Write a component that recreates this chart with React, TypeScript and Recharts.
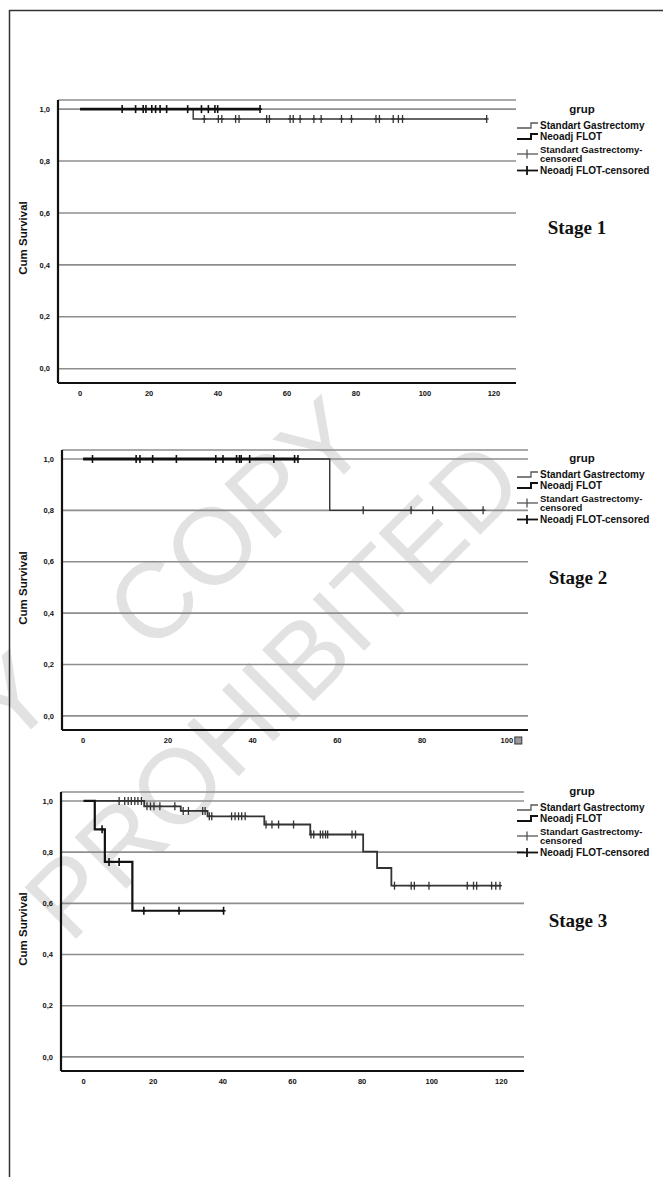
import React from "react";
import {
  ComposedChart,
  Line,
  Scatter,
  XAxis,
  YAxis,
  CartesianGrid,
} from "recharts";

// ---- Stage 1 ----
const s1StdStepT = [0, 32.8];
const s1StdStepS = [1, 0.962];
const s1StdEnd = 117.9;
const s1StdCens = [
  36.0, 40.1, 41.1, 45.1, 46.1, 54.1, 54.9, 60.9, 61.8, 63.8, 67.8, 69.9,
  75.8, 78.7, 85.8, 86.8, 90.8, 92.3, 93.5, 117.9,
];
const s1FlotStepT = [0];
const s1FlotStepS = [1];
const s1FlotEnd = 52.2;
const s1FlotCens = [
  12.2, 16.1, 18.3, 19.1, 20.8, 21.9, 23.2, 25.1, 31.2, 35.2, 37.2, 39.1,
  39.9, 52.2,
];

// ---- Stage 2 ----
const s2StdStepT = [0, 58.2];
const s2StdStepS = [1, 0.8];
const s2StdEnd = 95;
const s2StdCens = [66.1, 77.4, 82.5, 94.4];
const s2FlotStepT = [0];
const s2FlotStepS = [1];
const s2FlotEnd = 50.7;
const s2FlotCens = [
  2.2, 12.5, 13.4, 16.4, 22.0, 31.3, 33.0, 36.2, 36.9, 37.3, 39.3, 45.0,
  49.9, 50.7,
];

// ---- Stage 3 ----
const s3StdStepT = [0, 17.4, 27.9, 35.6, 51.9, 65.1, 80.3, 84.3, 88.4];
const s3StdStepS = [1, 0.979, 0.961, 0.94, 0.908, 0.869, 0.802, 0.738, 0.669];
const s3StdEnd = 119.9;
const s3StdCens = [
  10.2, 11.8, 12.8, 13.7, 14.7, 15.6, 16.6, 18.2, 19.2, 20.2, 21.9, 26.2,
  28.6, 30.1, 34.2, 34.9, 36.1, 36.8, 42.5, 43.5, 44.5, 45.4, 46.4, 52.4,
  54.1, 56.0, 60.3, 65.3, 66.1, 68.0, 68.7, 69.5, 70.1, 77.1, 78.1, 89.3,
  94.1, 95.0, 99.2, 110.2, 112.0, 112.9, 117.2, 118.4, 119.6,
];
const s3FlotStepT = [0, 3.2, 6.1, 14.0];
const s3FlotStepS = [1, 0.889, 0.762, 0.571];
const s3FlotEnd = 40.2;
const s3FlotCens = [5.3, 7.3, 10.2, 17.3, 27.4, 40.2];

const xTicks120 = [0, 20, 40, 60, 80, 100, 120];
const xTicks100 = [0, 20, 40, 60, 80, 100];
const yTicks = [0, 0.2, 0.4, 0.6, 0.8, 1];

const legendTitle = "grup";
const legendLabels = [
  "Standart Gastrectomy",
  "Neoadj FLOT",
  "Standart Gastrectomy-",
  "censored",
  "Neoadj FLOT-censored",
];

type Pt = { t: number; s: number };

function steps(ts: number[], ss: number[], end: number): Pt[] {
  const pts = ts.map((t, i) => ({ t, s: ss[i] }));
  pts.push({ t: end, s: ss[ss.length - 1] });
  return pts;
}

function censored(times: number[], ts: number[], ss: number[]): Pt[] {
  return times.map((t) => {
    let s = ss[0];
    ts.forEach((tt, i) => {
      if (tt <= t) s = ss[i];
    });
    return { t, s };
  });
}

const cross = (color: string, w: number) => (props: any) => {
  const { cx, cy } = props;
  if (cx == null || cy == null) return <g />;
  return (
    <g stroke={color} strokeWidth={w}>
      <line x1={cx} x2={cx} y1={cy - 4} y2={cy + 4} />
      <line x1={cx - 2} x2={cx + 2} y1={cy} y2={cy} />
    </g>
  );
};

const tickFont = {
  fontFamily: "'Liberation Sans', Arial, sans-serif",
  fontSize: 7.5,
  fontWeight: 700,
  fill: "#111",
};

const fmtY = (v: number) => v.toFixed(1).replace(".", ",");

function XTick(props: any) {
  const { x, y, payload, box } = props;
  return (
    <g>
      <text x={x} y={y} dy="0.71em" textAnchor="middle" {...tickFont}>
        {payload.value}
      </text>
      {box && payload.value === 100 ? (
        <rect x={x + 8} y={y - 1} width={7} height={7} fill="#9a9a9a" stroke="#333" strokeWidth={1} />
      ) : null}
    </g>
  );
}

interface Series {
  stdSteps: Pt[];
  stdCens: Pt[];
  flotSteps: Pt[];
  flotCens: Pt[];
  stdW: number;
  flotW: number;
}

interface KMProps {
  top: number;
  mTop: number;
  mBottom: number;
  mLeft: number;
  mRight: number;
  xDomain: [number, number];
  xTicks: number[];
  box?: boolean;
  series: Series;
}

function KMChart({ top, mTop, mBottom, mLeft, mRight, xDomain, xTicks, box, series }: KMProps) {
  return (
    <div style={{ position: "absolute", left: 0, top }}>
      <ComposedChart
        width={663}
        height={414}
        margin={{ top: mTop, right: mRight, bottom: mBottom, left: mLeft }}
      >
        <CartesianGrid vertical={false} stroke="#8e8e8e" strokeWidth={1.6} />
        <XAxis
          type="number"
          dataKey="t"
          domain={xDomain}
          ticks={xTicks}
          interval={0}
          allowDataOverflow
          height={30}
          axisLine={{ stroke: "#111", strokeWidth: 2.2 }}
          tickLine={false}
          tick={<XTick box={box} />}
        />
        <YAxis
          type="number"
          dataKey="s"
          domain={[-0.055, 1.035]}
          ticks={yTicks}
          interval={0}
          allowDataOverflow
          width={40}
          axisLine={{ stroke: "#111", strokeWidth: 2.2 }}
          tickLine={false}
          tick={tickFont}
          tickFormatter={fmtY}
        />
        <Line
          data={series.stdSteps}
          dataKey="s"
          type="stepAfter"
          stroke="#333"
          strokeWidth={series.stdW}
          dot={false}
          isAnimationActive={false}
        />
        <Scatter
          data={series.stdCens}
          dataKey="s"
          shape={cross("#333", 1.3)}
          isAnimationActive={false}
        />
        <Line
          data={series.flotSteps}
          dataKey="s"
          type="stepAfter"
          stroke="#111"
          strokeWidth={series.flotW}
          dot={false}
          isAnimationActive={false}
        />
        <Scatter
          data={series.flotCens}
          dataKey="s"
          shape={cross("#111", 1.6)}
          isAnimationActive={false}
        />
      </ComposedChart>
    </div>
  );
}

// legend block; "center" is the vertical centre of the "grup" title
function GroupLegend({ center }: { center: number }) {
  const font = {
    fontFamily: "'Liberation Sans', Arial, sans-serif",
    fontWeight: 700,
    fill: "#111",
  };
  const x0 = 2;
  const tx = 25;
  const step = (cy: number) =>
    `M${x0} ${cy + 2.5} H${x0 + 14} V${cy - 2.5} H${x0 + 21}`;
  return (
    <svg
      width={148}
      height={86}
      style={{ position: "absolute", left: 515, top: center - 13 }}
    >
      <text x={67} y={17} textAnchor="middle" fontSize={11.5} {...font}>
        {legendTitle}
      </text>
      <path d={step(29.5)} fill="none" stroke="#555" strokeWidth={1.3} />
      <text x={tx} y={33} fontSize={10} {...font}>{legendLabels[0]}</text>
      <path d={step(40.5)} fill="none" stroke="#111" strokeWidth={2} />
      <text x={tx} y={44} fontSize={10} {...font}>{legendLabels[1]}</text>
      <line x1={x0} x2={x0 + 21} y1={58} y2={58} stroke="#555" strokeWidth={1.3} />
      <line x1={x0 + 10} x2={x0 + 10} y1={53.5} y2={62.5} stroke="#555" strokeWidth={1.3} />
      <text x={tx} y={56.5} fontSize={9.5} {...font}>{legendLabels[2]}</text>
      <text x={tx} y={66} fontSize={9.5} {...font}>{legendLabels[3]}</text>
      <line x1={x0} x2={x0 + 21} y1={74.5} y2={74.5} stroke="#111" strokeWidth={1.8} />
      <line x1={x0 + 10} x2={x0 + 10} y1={70} y2={79} stroke="#111" strokeWidth={1.8} />
      <text x={tx} y={78} fontSize={10} {...font}>{legendLabels[4]}</text>
    </svg>
  );
}

function SideTexts() {
  const label = {
    fontFamily: "'Liberation Sans', Arial, sans-serif",
    fontWeight: 700,
    fontSize: 11.5,
    fill: "#111",
    textAnchor: "middle" as const,
  };
  const stage = {
    fontFamily: "'Liberation Serif', 'Times New Roman', serif",
    fontWeight: 700,
    fontSize: 19,
    fill: "#111",
    textAnchor: "middle" as const,
  };
  const wm = {
    fontFamily: "'Liberation Sans', Arial, sans-serif",
    fill: "#e2e2e2",
  };
  return (
    <svg width={663} height={1177} style={{ position: "absolute", left: 0, top: 0 }}>
      {/* watermark */}
      <text x={8} y={750} fontSize={108} transform="rotate(-42 8 750)" {...wm}>
        Y
      </text>
      <text x={150} y={655} fontSize={108} transform="rotate(-43 150 655)" {...wm}>
        COPY
      </text>
      <text x={70} y={945} fontSize={106} transform="rotate(-45 70 945)" {...wm}>
        PROHIBITED
      </text>
      <line x1={9.5} x2={663} y1={10.5} y2={10.5} stroke="#333" strokeWidth={1.5} />
      <line x1={9.5} x2={9.5} y1={10} y2={1177} stroke="#333" strokeWidth={1.5} />
      <text x={26.5} y={238} transform="rotate(-90 26.5 238)" {...label}>Cum Survival</text>
      <text x={26.5} y={588} transform="rotate(-90 26.5 588)" {...label}>Cum Survival</text>
      <text x={26.5} y={929} transform="rotate(-90 26.5 929)" {...label}>Cum Survival</text>
      <text x={577} y={234} {...stage}>Stage 1</text>
      <text x={578} y={584} {...stage}>Stage 2</text>
      <text x={578} y={927} {...stage}>Stage 3</text>
    </svg>
  );
}

export default function App() {
  const stage1: Series = {
    stdSteps: steps(s1StdStepT, s1StdStepS, s1StdEnd),
    stdCens: censored(s1StdCens, s1StdStepT, s1StdStepS),
    flotSteps: steps(s1FlotStepT, s1FlotStepS, s1FlotEnd),
    flotCens: censored(s1FlotCens, s1FlotStepT, s1FlotStepS),
    stdW: 1.4,
    flotW: 2.8,
  };
  const stage2: Series = {
    stdSteps: steps(s2StdStepT, s2StdStepS, s2StdEnd),
    stdCens: censored(s2StdCens, s2StdStepT, s2StdStepS),
    flotSteps: steps(s2FlotStepT, s2FlotStepS, s2FlotEnd),
    flotCens: censored(s2FlotCens, s2FlotStepT, s2FlotStepS),
    stdW: 1.4,
    flotW: 2.8,
  };
  const stage3: Series = {
    stdSteps: steps(s3StdStepT, s3StdStepS, s3StdEnd),
    stdCens: censored(s3StdCens, s3StdStepT, s3StdStepS),
    flotSteps: steps(s3FlotStepT, s3FlotStepS, s3FlotEnd),
    flotCens: censored(s3FlotCens, s3FlotStepT, s3FlotStepS),
    stdW: 1.8,
    flotW: 2.2,
  };

  return (
    <div
      style={{
        position: "absolute",
        left: 0,
        top: 0,
        width: 663,
        height: 1177,
        overflow: "hidden",
        background: "#fff",
      }}
    >
      <SideTexts />
      <KMChart
        top={0}
        mTop={100}
        mBottom={1}
        mLeft={18}
        mRight={147}
        xDomain={[-6.4, 126.4]}
        xTicks={xTicks120}
        series={stage1}
      />
      <KMChart
        top={350}
        mTop={100}
        mBottom={4}
        mLeft={22}
        mRight={135}
        xDomain={[-5, 105]}
        xTicks={xTicks100}
        box
        series={stage2}
      />
      <KMChart
        top={700}
        mTop={92}
        mBottom={13}
        mLeft={21}
        mRight={139}
        xDomain={[-6.5, 126.5]}
        xTicks={xTicks120}
        series={stage3}
      />
      <GroupLegend center={109} />
      <GroupLegend center={458} />
      <GroupLegend center={791} />
    </div>
  );
}
